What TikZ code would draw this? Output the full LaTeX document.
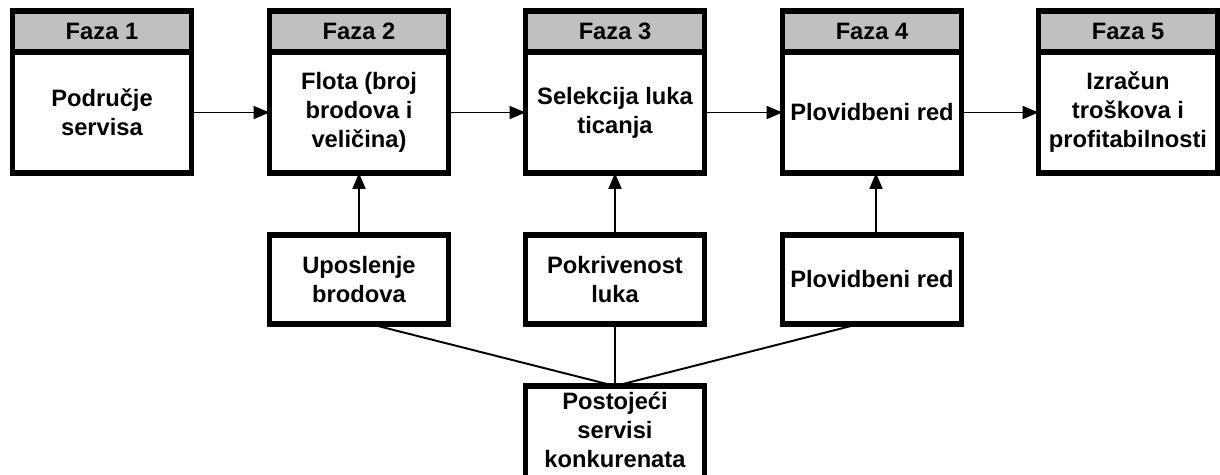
\documentclass[tikz,border=0pt]{standalone}
\usepackage{fontspec}
\setmainfont{Liberation Sans}
\usetikzlibrary{positioning,arrows.meta}
\definecolor{headgray}{RGB}{192,192,192}

\begin{document}
\begin{tikzpicture}[x=0.02cm,y=-0.02cm,
  font=\fontsize{13.5}{16.5}\selectfont\bfseries,
  frame/.style={draw,line width=3.1pt,outer sep=0pt,minimum width=3.58cm,align=center,inner sep=1pt},
  head/.style={frame,fill=headgray,minimum height=0.82cm},
  body/.style={frame,minimum height=2.42cm},
  lower/.style={frame,minimum height=1.78cm},
  lowtext/.style={minimum width=3.58cm,align=center,inner xsep=0pt,inner ysep=0.13cm,outer sep=0pt},
  arr/.style={line width=1.1pt,-{Triangle[length=0.32cm,width=0.26cm]}},
  link/.style={line width=1.1pt}]
\useasboundingbox (0,0) rectangle (1220,475);
\clip (0,0) rectangle (1220,475);
% faze
\node[body] (f1) at (102,112.5) {Područje\\servisa};
\node[body] (f2) at (359,112.5) {Flota (broj\\brodova i\\veličina)};
\node[body] (f3) at (615,112.5) {Selekcija luka\\ticanja};
\node[body] (f4) at (872,112.5) {Plovidbeni red};
\node[body] (f5) at (1128,112.5) {Izračun\\troškova i\\profitabilnosti};
\node[head,above=0pt of f1] (h1) {Faza 1};
\node[head,above=0pt of f2] (h2) {Faza 2};
\node[head,above=0pt of f3] (h3) {Faza 3};
\node[head,above=0pt of f4] (h4) {Faza 4};
\node[head,above=0pt of f5] (h5) {Faza 5};
\draw[arr] (f1.east) -- (f2.west);
\draw[arr] (f2.east) -- (f3.west);
\draw[arr] (f3.east) -- (f4.west);
\draw[arr] (f4.east) -- (f5.west);
% ulazi
\node[lower] (up) at (359,279.5) {Uposlenje\\brodova};
\node[lower] (pl) at (615,279.5) {Pokrivenost\\luka};
\node[lower] (pr) at (872,279.5) {Plovidbeni red};
\draw[arr] (up.north) -- (f2.south);
\draw[arr] (pl.north) -- (f3.south);
\draw[arr] ([xshift=0.08cm]pr.north) -- ([xshift=0.08cm]f4.south);
% konkurenti
\node[lowtext,anchor=north] (ko) at (615,386) {Postojeći\\servisi\\konkurenata};
\draw[line width=3.1pt] ([yshift=-1cm]ko.south west) -- (ko.north west)
  -- (ko.north east) -- ([yshift=-1cm]ko.south east);
\draw[link] ([xshift=0.22cm]up.south) -- (ko.north);
\draw[link] (pl.south) -- (ko.north);
\draw[link] ([xshift=-0.26cm]pr.south) -- (ko.north);
\end{tikzpicture}
\end{document}
